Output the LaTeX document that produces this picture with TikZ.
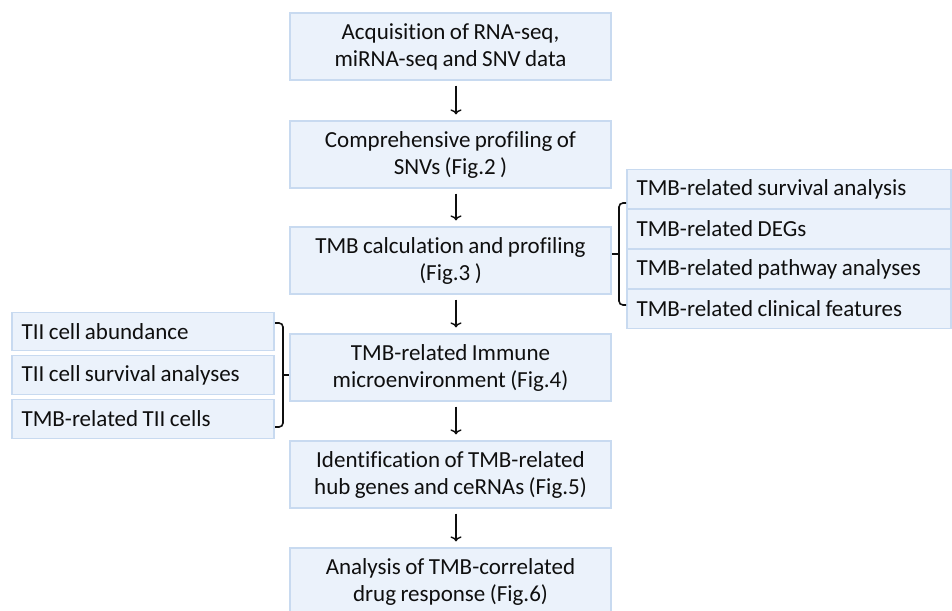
\documentclass[tikz,border=0pt]{standalone}
\usepackage{fontspec}
\setmainfont{Carlito}[WordSpace=0.85, Ligatures=NoCommon]
\usetikzlibrary{arrows.meta}
\definecolor{boxfill}{RGB}{235,242,251}
\definecolor{boxline}{RGB}{200,218,240}
\definecolor{ink}{RGB}{15,15,15}
\begin{document}
\begin{tikzpicture}[x=1pt,y=-1pt,
  basebox/.style={draw=boxline, fill=boxfill, line width=1.2pt, inner sep=0pt},
  mainbox/.style={basebox, minimum width=321pt, minimum height=67pt},
  maintext/.style={align=center, text=ink, inner sep=0pt, font=\fontsize{23}{27}\selectfont},
  rbox/.style={basebox, minimum width=324pt, minimum height=38.5pt},
  lbox/.style={basebox, minimum width=262pt, minimum height=38.5pt},
  sidetext/.style={anchor=west, text=ink, inner sep=0pt, font=\fontsize{23}{26}\selectfont},
  arr/.style={draw=ink, line width=1.6pt, -{To[length=5pt,width=11pt,line width=1.4pt]}, shorten <=5pt, shorten >=6pt},
  bracket/.style={draw=ink, line width=1.6pt, rounded corners=4pt}
]
\useasboundingbox (0,0) rectangle (952,610);
\fill[white] (0,0) rectangle (952,610);

\node[mainbox] (b1) at (450.5,46.5) {};
\node[mainbox] (b2) at (450.5,154.5) {};
\node[mainbox] (b3) at (450.5,260.5) {};
\node[mainbox] (b4) at (450.5,367.5) {};
\node[mainbox] (b5) at (450.5,474.5) {};
\node[mainbox] (b6) at (450.5,581.5) {};

\node[maintext] (t1) at (b1.center) {Acquisition of RNA-seq,\\miRNA-seq and SNV data};
\node[maintext] (t2) at (b2.center) {Comprehensive profiling of\\SNVs (Fig.2 )};
\node[maintext] (t3) at (b3.center) {TMB calculation and profiling\\(Fig.3 )};
\node[maintext] (t4) at (b4.center) {TMB-related Immune\\microenvironment (Fig.4)};
\node[maintext] (t5) at (b5.center) {Identification of TMB-related\\hub genes and ceRNAs (Fig.5)};
\node[maintext] (t6) at (b6.center) {Analysis of TMB-correlated\\drug response (Fig.6)};

\node[rbox] (r1) at (789,189) {};
\node[rbox] (r2) at (789,229) {};
\node[rbox] (r3) at (789,269) {};
\node[rbox] (r4) at (789,309) {};
\node[sidetext] (rt1) at ([xshift=10pt]r1.west) {TMB-related survival analysis};
\node[sidetext] (rt2) at ([xshift=10pt]r2.west) {TMB-related DEGs};
\node[sidetext] (rt3) at ([xshift=10pt]r3.west) {TMB-related pathway analyses};
\node[sidetext] (rt4) at ([xshift=10pt]r4.west) {TMB-related clinical features};

\node[lbox] (l1) at (143,331.5) {};
\node[lbox] (l2) at (143,375) {};
\node[lbox] (l3) at (143,419) {};
\node[sidetext] (lt1) at ([xshift=10pt]l1.west) {TII cell abundance};
\node[sidetext] (lt2) at ([xshift=10pt]l2.west) {TII cell survival analyses};
\node[sidetext] (lt3) at ([xshift=10pt]l3.west) {TMB-related TII cells};

\foreach \a/\b in {b1/b2,b2/b3,b3/b4,b4/b5,b5/b6}
  \draw[arr] ([xshift=5.5pt]\a.south) -- ([xshift=5.5pt]\b.north);

\draw[bracket] (626,203) -- (619,203) -- (619,305) -- (626,305);
\draw[bracket] (619,254) -- ([yshift=6.5pt]b3.east);

\draw[bracket] (275,323) -- (283,323) -- (283,427) -- (275,427);
\draw[bracket] (283,375) -- ([yshift=-7.5pt]b4.west);
\end{tikzpicture}
\end{document}
